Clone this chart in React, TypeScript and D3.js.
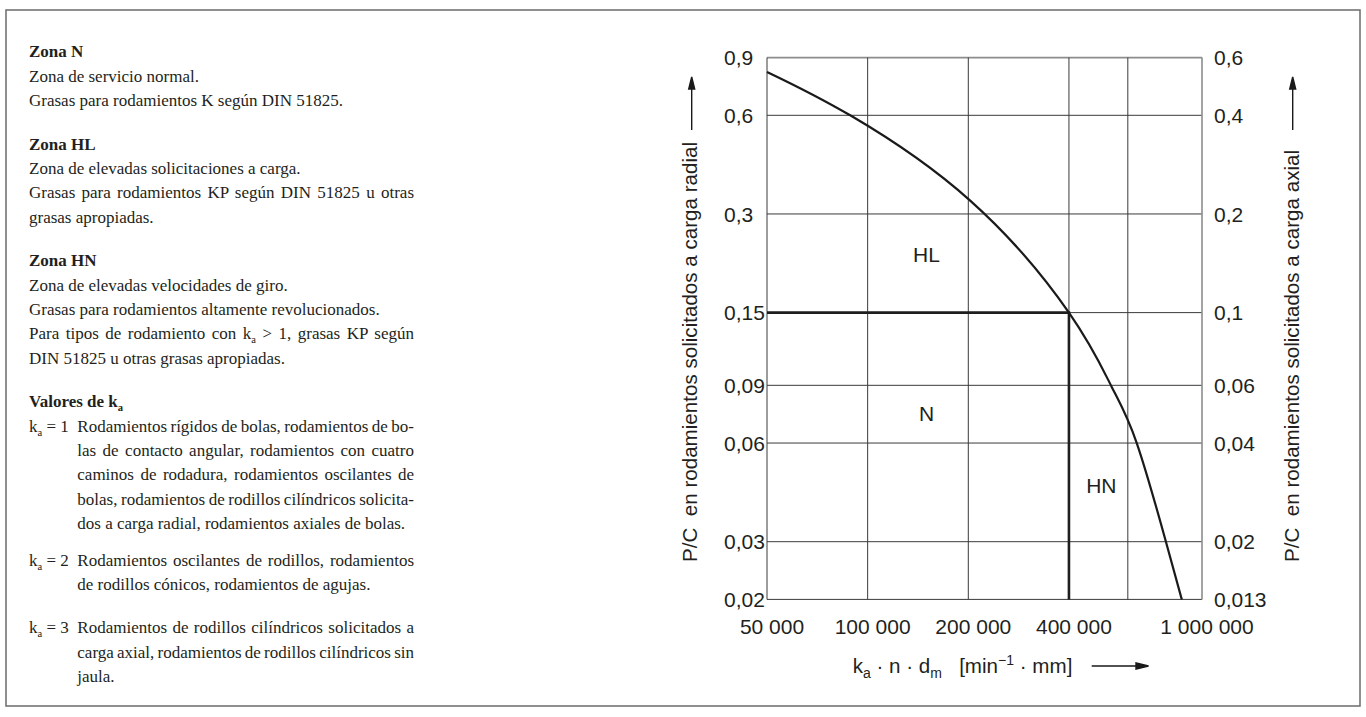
import { useEffect, useRef } from "react";
import * as d3 from "d3";

const W = 1366,
  H = 717;
const plot = { left: 767, right: 1202, top: 57.6, bottom: 599.4 };

// x axis: k_a · n · d_m  [min-1 · mm]
const xGridValues = [50000, 100000, 200000, 400000, 600000, 1000000];
const xTickValues = [50000, 100000, 200000, 400000, 1000000];
// left axis: radial load, right axis: axial load
const radialTicks = [0.9, 0.6, 0.3, 0.15, 0.09, 0.06, 0.03, 0.02];
const axialTicks = [0.6, 0.4, 0.2, 0.1, 0.06, 0.04, 0.02, 0.013];

// limit curve between the zones
const curveSpeed = [50000, 89200, 203000, 400000, 537000, 638000, 780000, 870000];
const curveLoad = [0.814, 0.598, 0.329, 0.15, 0.089, 0.06, 0.03, 0.02];

// corner of zone N
const limitSpeed = 400000;
const limitLoad = 0.15;

const zoneNames = ["HL", "N", "HN"];
const zoneSpeed = [150000, 150000, 500000];
const zoneLoad = [0.226, 0.0741, 0.0445];

type Line = {
  t: string;
  bold?: boolean;
  just?: boolean;
  ind?: boolean;
  lab?: string;
  gap?: number;
};

const notes: Line[] = [
  { t: "Zona N", bold: true },
  { t: "Zona de servicio normal." },
  { t: "Grasas para rodamientos K según DIN 51825." },
  { t: "Zona HL", bold: true, gap: 19 },
  { t: "Zona de elevadas solicitaciones a carga." },
  { t: "Grasas para rodamientos KP según DIN 51825 u otras", just: true },
  { t: "grasas apropiadas." },
  { t: "Zona HN", bold: true, gap: 19 },
  { t: "Zona de elevadas velocidades de giro." },
  { t: "Grasas para rodamientos altamente revolucionados." },
  { t: "Para tipos de rodamiento con k{a} > 1, grasas KP según", just: true },
  { t: "DIN 51825 u otras grasas apropiadas." },
  { t: "Valores de k{a}", bold: true, gap: 19 },
  { t: "Rodamientos rígidos de bolas, rodamientos de bo-", lab: "k{a} = 1", ind: true, just: true },
  { t: "las de contacto angular, rodamientos con cuatro", ind: true, just: true },
  { t: "caminos de rodadura, rodamientos oscilantes de", ind: true, just: true },
  { t: "bolas, rodamientos de rodillos cilíndricos solicita-", ind: true, just: true },
  { t: "dos a carga radial, rodamientos axiales de bolas.", ind: true },
  { t: "Rodamientos oscilantes de rodillos, rodamientos", lab: "k{a} = 2", ind: true, just: true, gap: 12 },
  { t: "de rodillos cónicos, rodamientos de agujas.", ind: true },
  { t: "Rodamientos de rodillos cilíndricos solicitados a", lab: "k{a} = 3", ind: true, just: true, gap: 19 },
  { t: "carga axial, rodamientos de rodillos cilíndricos sin", ind: true, just: true },
  { t: "jaula.", ind: true },
];

const textLeft = 29,
  textIndent = 77.3,
  textRight = 414,
  lineStep = 24.4;

const ink = "#231f20";
const serif = "'Liberation Serif', 'Times New Roman', serif";
const sans = "'Liberation Sans', Arial, Helvetica, sans-serif";

// "k{a}" -> k with subscript a
const rich = (s: string, size: number) => {
  const parts = s.split(/\{(\w)\}/);
  return parts.map((p, i) =>
    i % 2 === 0 ? (
      <tspan key={i} dy={i > 0 ? -4 : 0}>
        {p}
      </tspan>
    ) : (
      <tspan key={i} dy={4} fontSize={size * 0.62}>
        {p}
      </tspan>
    )
  );
};

const fmtLoad = (v: number) => String(v).replace(".", ",");
const fmtSpeed = (v: number) => d3.format(",")(v).replace(/,/g, " ");

export default function App() {
  const svgRef = useRef<SVGSVGElement | null>(null);

  // y of every text line
  let yy = 57.3 - lineStep;
  const rows = notes.map((l) => {
    yy += lineStep + (l.gap || 0);
    return { ...l, y: yy };
  });

  useEffect(() => {
    const svg = d3.select(svgRef.current);

    // justify the lines of the text column with word spacing
    svg.selectAll<SVGTextElement, unknown>("text.just").each(function () {
      this.style.wordSpacing = "0px";
      const target = +(this.getAttribute("data-w") || 0);
      const len = this.getComputedTextLength();
      const spaces = (this.textContent || "").split(" ").length - 1;
      if (spaces > 0) this.style.wordSpacing = (target - len) / spaces + "px";
    });

    const g = svg.select("g.chart");
    g.selectAll("*").remove();

    const x = d3
      .scaleLog()
      .domain([50000, 1000000])
      .range([plot.left, plot.right]);
    const y = d3.scaleLog().domain([0.02, 0.9]).range([plot.bottom, plot.top]);
    const yAxial = d3
      .scaleLog()
      .domain([0.02 / 1.5, 0.9 / 1.5])
      .range([plot.bottom, plot.top])
      .clamp(true);

    // horizontal gridlines
    g.selectAll("line.hgrid")
      .data(radialTicks)
      .join("line")
      .attr("class", "hgrid")
      .attr("x1", plot.left)
      .attr("x2", plot.right)
      .attr("y1", (d) => y(d))
      .attr("y2", (d) => y(d))
      .attr("stroke", (d) => (d === 0.9 ? "#8c8c8c" : "#3a3a3a"))
      .attr("stroke-width", (d) => (d === 0.9 ? 1.6 : 1));

    // vertical gridlines
    g.selectAll("line.vgrid")
      .data(xGridValues)
      .join("line")
      .attr("class", "vgrid")
      .attr("x1", (d) => x(d))
      .attr("x2", (d) => x(d))
      .attr("y1", plot.top)
      .attr("y2", plot.bottom)
      .attr("stroke", (d) => (d === 1000000 ? "#8c8c8c" : "#3a3a3a"))
      .attr("stroke-width", (d) => (d === 1000000 ? 1.6 : 1));

    // left tick labels
    g.selectAll("text.yl")
      .data(radialTicks)
      .join("text")
      .attr("class", "yl")
      .attr("x", plot.left - 43)
      .attr("y", (d) => y(d))
      .attr("dy", "0.36em")
      .text(fmtLoad);

    // right tick labels
    g.selectAll("text.yr")
      .data(axialTicks)
      .join("text")
      .attr("class", "yr")
      .attr("x", plot.right + 12)
      .attr("y", (d) => yAxial(d))
      .attr("dy", "0.36em")
      .text(fmtLoad);

    // bottom tick labels
    g.selectAll("text.xl")
      .data(xTickValues)
      .join("text")
      .attr("class", "xl")
      .attr("x", (d) => x(d) + 5)
      .attr("y", plot.bottom + 34.5)
      .attr("text-anchor", "middle")
      .text(fmtSpeed);

    // bold limits of zone N
    g.append("path")
      .attr(
        "d",
        d3.line()([
          [x(50000), y(limitLoad)],
          [x(limitSpeed), y(limitLoad)],
          [x(limitSpeed), y(0.02)],
        ])
      )
      .attr("fill", "none")
      .attr("stroke", "#1e1e1e")
      .attr("stroke-width", 2.6);

    // limit curve
    const pts: [number, number][] = curveSpeed.map((s, i) => [
      x(s),
      y(curveLoad[i]),
    ]);
    g.append("path")
      .attr("d", d3.line().curve(d3.curveNatural)(pts))
      .attr("fill", "none")
      .attr("stroke", "#1a1a1a")
      .attr("stroke-width", 2.2);

    // zone names
    g.selectAll("text.zone")
      .data(zoneNames)
      .join("text")
      .attr("class", "zone")
      .attr("x", (_, i) => x(zoneSpeed[i]))
      .attr("y", (_, i) => y(zoneLoad[i]))
      .attr("dy", "0.36em")
      .attr("text-anchor", "middle")
      .text((d) => d);
  }, []);

  const arrowUp = (ax: number) =>
    `M${ax},130 L${ax},88 M${ax - 3},89 L${ax + 3},89 L${ax},77 Z`;

  return (
    <svg
      ref={svgRef}
      width={W}
      height={H}
      style={{ position: "absolute", left: 0, top: 0, background: "#fff" }}
    >
      <rect
        x={6}
        y={10}
        width={1354}
        height={696}
        fill="none"
        stroke="#6b6b6b"
        strokeWidth={1.5}
      />

      {/* text column */}
      <g fontFamily={serif} fontSize={17} fill={ink}>
        {rows.map((r, i) => (
          <g key={i}>
            {r.lab && <text x={textLeft} y={r.y}>{rich(r.lab, 17)}</text>}
            <text
              className={r.just ? "just" : undefined}
              data-w={textRight - (r.ind ? textIndent : textLeft)}
              x={r.ind ? textIndent : textLeft}
              y={r.y}
              fontWeight={r.bold ? "bold" : "normal"}
            >
              {rich(r.t, 17)}
            </text>
          </g>
        ))}
      </g>

      {/* chart */}
      <g className="chart" fontFamily={sans} fontSize={21} fill={ink} />

      {/* axis titles */}
      <g fontFamily={sans} fontSize={20.6} fill={ink}>
        <text xmlSpace="preserve" transform="translate(697,562) rotate(-90)">
          {"P/C  en rodamientos solicitados a carga radial"}
        </text>
        <text xmlSpace="preserve" transform="translate(1299,562) rotate(-90)">
          {"P/C  en rodamientos solicitados a carga axial"}
        </text>
        <text xmlSpace="preserve" x={852.7} y={673}>
          <tspan>k</tspan>
          <tspan dy={5} fontSize={14}>a</tspan>
          <tspan dy={-5}>{" · n · d"}</tspan>
          <tspan dy={5} fontSize={14}>m</tspan>
          <tspan dy={-5}>{"   [min"}</tspan>
          <tspan dy={-8} fontSize={14}>{"−1"}</tspan>
          <tspan dy={8}>{" · mm]"}</tspan>
        </text>
      </g>

      {/* arrows */}
      <g stroke="#1a1a1a" strokeWidth={1.4} fill="#1a1a1a">
        <path d={arrowUp(691.7)} />
        <path d={arrowUp(1292.7)} />
        <path d="M1091.7,666 L1137,666 M1136,663 L1136,669 L1148.5,666 Z" />
      </g>
    </svg>
  );
}
